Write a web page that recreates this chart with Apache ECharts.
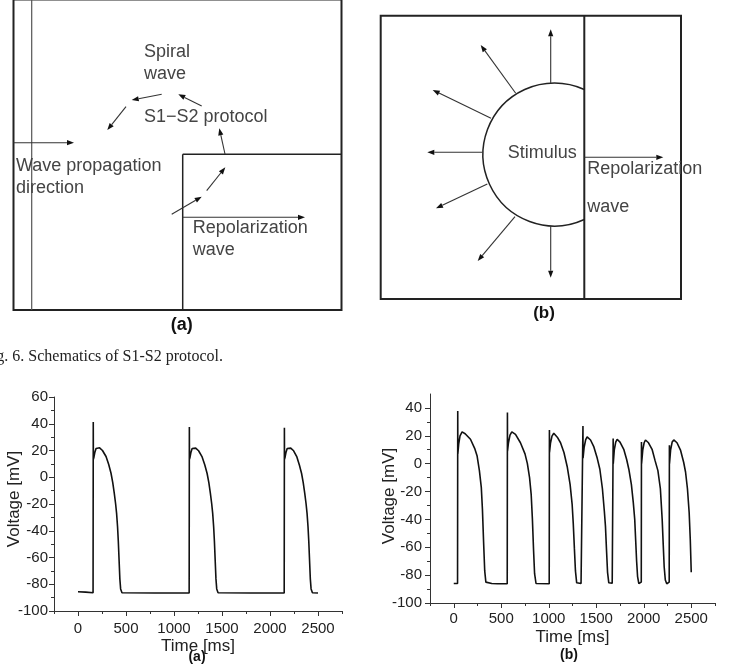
<!DOCTYPE html>
<html>
<head>
<meta charset="utf-8">
<title>S1-S2 protocol</title>
<script src="https://cdn.jsdelivr.net/npm/echarts@6/dist/echarts.min.js"></script>
<style>
html, body { margin: 0; padding: 0; background: #fff; }
#chart { width: 731px; height: 670px; }
</style>
</head>
<body>
<div id="chart"></div>
<script>
// tick values
const timeTicks = [0, 500, 1000, 1500, 2000, 2500];
const timeMinor = [-250, 250, 750, 1250, 1750, 2250, 2750];
const voltTicksA = [-100, -80, -60, -40, -20, 0, 20, 40, 60];
const voltTicksB = [-100, -80, -60, -40, -20, 0, 20, 40];
const voltMinor = [-90, -70, -50, -30, -10, 10, 30, 50];

// (a) regular pacing, [time ms, voltage mV]
const restA = [[0, -85.6], [80, -85.9], [157, -86.3]];
const beatA1 = [[159, 41.3], [160, 13.5], [166, 15], [175, 18.5], [188, 21.5], [204, 22.7], [225, 22], [255, 20],
  [292, 15.5], [320, 9.5], [344, 3], [362, -4], [378, -12], [392, -20], [402, -27], [412, -37], [420, -48],
  [428, -62], [436, -76], [444, -83.5], [458, -86.3], [800, -86.5], [1158, -86.5]];
const beatA2 = [[1160, 37.6], [1161, 13.5], [1167, 15], [1176, 18.5], [1189, 21.5], [1205, 22.3], [1226, 21.8], [1256, 19.8],
  [1293, 15.2], [1321, 9.2], [1345, 2.8], [1363, -4], [1379, -12], [1393, -20], [1403, -27], [1413, -37], [1421, -48],
  [1429, -62], [1437, -76], [1445, -83.5], [1459, -86.3], [1800, -86.5], [2148, -86.5]];
const beatA3 = [[2150, 37], [2151, 13.5], [2157, 15], [2166, 18.5], [2179, 21.5], [2195, 22.3], [2216, 21.8], [2246, 19.8],
  [2280, 15.2], [2306, 9.2], [2329, 2.8], [2346, -4], [2362, -12], [2376, -20], [2386, -27], [2396, -37], [2404, -48],
  [2412, -62], [2420, -76], [2428, -83.5], [2442, -86.3], [2500, -86.5]];

// (b) S1-S2 protocol, shortening intervals
const beatB1 = [[0, -86], [40, -86], [42, 37.8], [43, 7], [52, 14], [66, 20], [88, 22.8], [120, 21.5], [176, 17.5],
  [220, 11], [246, 5.5], [270, -5], [290, -17], [302, -33], [314, -56], [326, -77], [338, -85], [352, -86.3],
  [400, -86], [460, -86.2], [563, -86.2]];
const beatB2 = [[565, 36.7], [566, 9], [576, 15], [592, 20.5], [611, 22.8], [650, 21], [702, 15], [750, 7], [775, 0],
  [798, -10], [815, -22], [828, -40], [840, -62], [851, -79], [866, -86], [1005, -86.2]];
const beatB3 = [[1007, 24.2], [1008, 8], [1018, 14.5], [1034, 19.8], [1053, 21.8], [1090, 19], [1124, 15], [1160, 8],
  [1194, -2], [1225, -15], [1246, -29], [1258, -43], [1270, -61], [1281, -77], [1294, -85.5], [1315, -86.4],
  [1340, -86], [1358, -85.8]];
const beatB4 = [[1360, 27.1], [1361, 4], [1372, 11.5], [1388, 17], [1404, 19.2], [1440, 17], [1475, 12], [1510, 4],
  [1538, -4], [1565, -18], [1585, -34], [1597, -45], [1608, -62], [1619, -78], [1632, -85.5], [1650, -86.4],
  [1668, -85.8], [1676, -85]];
const beatB5 = [[1678, 18], [1679, 0], [1690, 10], [1705, 15.5], [1720, 17.5], [1750, 15.5], [1791, 10], [1820, 3],
  [1843, -4], [1870, -15], [1890, -28], [1905, -40], [1915, -55], [1925, -70], [1935, -81], [1948, -86],
  [1962, -86.2], [1974, -85]];
const beatB6 = [[1976, 15.6], [1977, 0], [1990, 10], [2004, 15], [2018, 17], [2050, 15], [2089, 10], [2120, 2],
  [2149, -5], [2175, -18], [2194, -40], [2205, -58], [2215, -74], [2227, -83.5], [2242, -86.2], [2258, -86],
  [2268, -85]];
const beatB7 = [[2270, 13.2], [2271, 0], [2283, 10], [2299, 15.5], [2316, 17], [2350, 15], [2388, 9.5], [2420, 1],
  [2440, -6], [2460, -18], [2478, -35], [2490, -55], [2500, -78]];

const traceA = restA.concat(beatA1, beatA2, beatA3);
const traceB = beatB1.concat(beatB2, beatB3, beatB4, beatB5, beatB6, beatB7);

const axisColor = '#333';
const labelFont = { color: '#222', fontSize: 15, fontFamily: 'Liberation Sans' };
const titleFont = { color: '#222', fontSize: 17, fontFamily: 'Liberation Sans' };

function arrow(x1, y1, x2, y2) {
  const a = Math.atan2(y2 - y1, x2 - x1), L = 7, W = 2.6;
  const bx = x2 - L * Math.cos(a), by = y2 - L * Math.sin(a);
  return [
    { type: 'line', shape: { x1: x1, y1: y1, x2: bx, y2: by }, style: { stroke: '#333', lineWidth: 1.1 } },
    { type: 'polygon', shape: { points: [[x2, y2], [bx - W * Math.sin(a), by + W * Math.cos(a)], [bx + W * Math.sin(a), by - W * Math.cos(a)]] },
      style: { fill: '#111' } }
  ];
}
function label(text, x, y, size, opts) {
  return Object.assign({ type: 'text', x: x, y: y,
    style: { text: text, fill: '#444', fontSize: size || 18, fontFamily: 'Liberation Sans', verticalAlign: 'middle' } }, opts || {});
}
function seg(x1, y1, x2, y2, w, c) {
  return { type: 'line', shape: { x1: x1, y1: y1, x2: x2, y2: y2 }, style: { stroke: c || '#222', lineWidth: w || 1.5 } };
}
// rotated y-axis title
function yTitle(x, y) {
  return { type: 'text', x: x, y: y, rotation: Math.PI / 2,
    style: { text: 'Voltage [mV]', fill: '#222', fontSize: 17, fontFamily: 'Liberation Sans', align: 'center', verticalAlign: 'middle' } };
}

// schematics (top half)
let drawing = [
  // panel (a)
  { type: 'rect', shape: { x: 13.5, y: -0.5, width: 328, height: 310.5 }, style: { fill: 'none', stroke: '#222', lineWidth: 2 } },
  seg(31.7, 0, 31.7, 310, 1.2, '#555'),
  seg(182.7, 154.3, 182.7, 310, 1.5),
  seg(182.7, 154.3, 341.5, 154.3, 1.5),
  label('Spiral', 144, 52), label('wave', 144, 74),
  label('S1\u2212S2 protocol', 144, 117),
  label('Wave propagation', 16, 166), label('direction', 16, 188),
  label('Repolarization', 192.7, 228), label('wave', 192.7, 250),
  { type: 'text', x: 181.7, y: 325, style: { text: '(a)', fill: '#111', fontSize: 18, fontWeight: 'bold', fontFamily: 'Liberation Sans', align: 'center', verticalAlign: 'middle' } },
  // panel (b)
  { type: 'rect', shape: { x: 380.7, y: 15.7, width: 300.3, height: 283.3 }, style: { fill: 'none', stroke: '#222', lineWidth: 2 } },
  seg(584.3, 15.7, 584.3, 299, 2),
  { type: 'arc', shape: { cx: 554.5, cy: 154.5, r: 71.5, startAngle: 1.141, endAngle: 5.142, clockwise: true },
    style: { fill: 'none', stroke: '#222', lineWidth: 1.5 } },
  label('Stimulus', 507.7, 153),
  label('Repolarization', 587.3, 169.5), label('wave', 587.3, 207),
  { type: 'text', x: 544, y: 313.5, style: { text: '(b)', fill: '#111', fontSize: 17, fontWeight: 'bold', fontFamily: 'Liberation Sans', align: 'center', verticalAlign: 'middle' } },
  // caption
  { type: 'text', x: -17, y: 357, style: { text: 'Fig. 6. Schematics of S1-S2 protocol.', fill: '#222', fontSize: 16, fontFamily: 'Liberation Serif', verticalAlign: 'middle' } },
  // axis titles and sub-labels of the traces
  yTitle(14, 499),
  yTitle(389, 496),
  { type: 'text', x: 197, y: 657, style: { text: '(a)', fill: '#111', fontSize: 14, fontWeight: 'bold', fontFamily: 'Liberation Sans', align: 'center', verticalAlign: 'middle' } },
  { type: 'text', x: 569, y: 655, style: { text: '(b)', fill: '#111', fontSize: 14, fontWeight: 'bold', fontFamily: 'Liberation Sans', align: 'center', verticalAlign: 'middle' } }
];
drawing = drawing.concat(
  arrow(13.3, 142.7, 74, 142.7),
  arrow(161.7, 94.3, 131.7, 100),
  arrow(126, 106.7, 107.3, 130),
  arrow(201.7, 106, 178.3, 94.3),
  arrow(225, 154, 219.3, 128.3),
  arrow(171.7, 214.3, 201.7, 196.7),
  arrow(206.7, 190.7, 225.3, 167.3),
  arrow(182.7, 217.3, 305, 217.3),
  arrow(550.7, 83.3, 550.7, 29.3),
  arrow(515.7, 93.3, 480.7, 45),
  arrow(491, 118.3, 432.7, 90),
  arrow(482.3, 152.3, 427.3, 152.3),
  arrow(487.3, 184, 436, 208.3),
  arrow(515, 216.7, 477.7, 261),
  arrow(550.7, 225.7, 550.7, 277.7),
  arrow(584.3, 157.3, 663.3, 157.3)
);

function plain(v) { return String(v); }

function xAxes(gi, gap, margin) {
  return [{
    gridIndex: gi, type: 'value', position: 'bottom', min: -250, max: 2750,
    axisLine: { onZero: false, lineStyle: { color: axisColor, width: 1 } },
    axisTick: { customValues: timeTicks, length: 5, lineStyle: { color: axisColor } },
    axisLabel: Object.assign({ customValues: timeTicks, margin: margin, formatter: plain }, labelFont),
    splitLine: { show: false },
    name: 'Time [ms]', nameLocation: 'middle', nameGap: gap, nameTextStyle: titleFont
  }, {
    gridIndex: gi, type: 'value', position: 'bottom', min: -250, max: 2750,
    axisLine: { show: false, onZero: false },
    axisTick: { customValues: timeMinor, length: 3, lineStyle: { color: axisColor } },
    axisLabel: { show: false }, splitLine: { show: false }
  }];
}
function yAxes(gi, max, ticks, margin) {
  return [{
    gridIndex: gi, type: 'value', position: 'left', min: -100, max: max,
    axisLine: { show: true, onZero: false, lineStyle: { color: axisColor, width: 1 } },
    axisTick: { show: true, customValues: ticks, length: 5, lineStyle: { color: axisColor } },
    axisLabel: Object.assign({ customValues: ticks, margin: margin, formatter: plain }, labelFont),
    splitLine: { show: false }
  }, {
    gridIndex: gi, type: 'value', position: 'left', min: -100, max: max,
    axisLine: { show: false, onZero: false },
    axisTick: { show: true, customValues: voltMinor.filter(v => v < max), length: 3, lineStyle: { color: axisColor } },
    axisLabel: { show: false }, splitLine: { show: false }
  }];
}

const chart = echarts.init(document.getElementById('chart'));
chart.setOption({
  animation: false,
  backgroundColor: '#fff',
  grid: [
    { left: 54, top: 397, width: 288, height: 214, outerBoundsMode: 'none' },
    { left: 430, top: 394, width: 285, height: 209, outerBoundsMode: 'none' }
  ],
  xAxis: xAxes(0, 27, 10).concat(xAxes(1, 26, 8)),
  yAxis: yAxes(0, 60, voltTicksA, 6).concat(yAxes(1, 50, voltTicksB, 8)),
  series: [
    { type: 'line', xAxisIndex: 0, yAxisIndex: 0, data: traceA, showSymbol: false,
      lineStyle: { color: '#111', width: 1.6 } },
    { type: 'line', xAxisIndex: 2, yAxisIndex: 2, data: traceB, showSymbol: false,
      lineStyle: { color: '#111', width: 1.6 } }
  ],
  graphic: drawing.map(g => Object.assign({ silent: true }, g))
});
window.onresize = function () { chart.resize(); };
</script>
</body>
</html>
